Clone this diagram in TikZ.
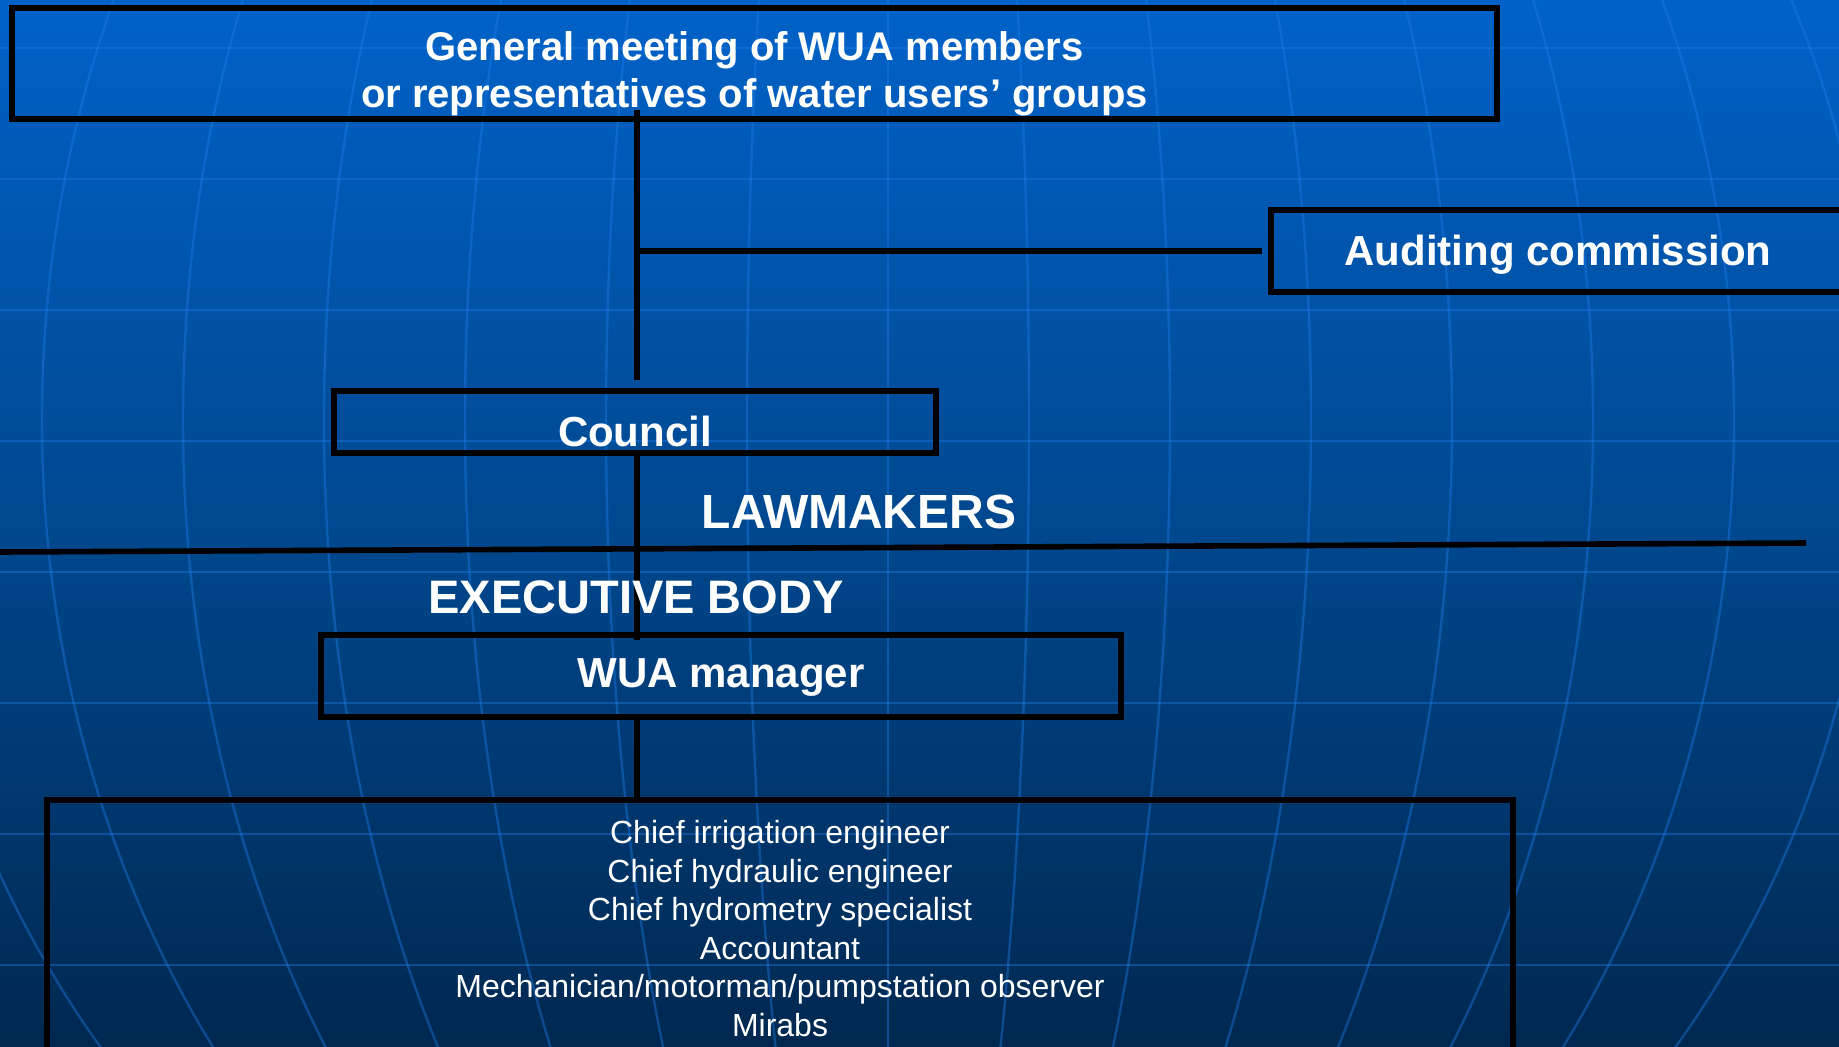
\documentclass[tikz,border=0pt]{standalone}
\usepackage{fontspec}
\setmainfont{Liberation Sans}
\definecolor{bgtop}{HTML}{0062C8}
\definecolor{bgmid}{HTML}{00488F}
\definecolor{bgbot}{HTML}{002850}
\definecolor{gridblue}{HTML}{1E7DEB}
\begin{document}
\begin{tikzpicture}[x=0.5pt,y=-0.5pt,
    orgbox/.style={draw=black,line width=2.8pt,inner sep=0pt,text=white},
    link/.style={draw=black,line width=2.8pt},
    gridline/.style={draw=gridblue,draw opacity=.4,line width=1.2pt},
    headtext/.style={text=white,font=\fontsize{21pt}{25pt}\selectfont\bfseries}]
    \useasboundingbox (0,0) rectangle (1839,1047);

    \shade [top color=bgtop,bottom color=bgbot,middle color=bgmid] (0,0) rectangle (1839,1047);

    \begin{scope}
      \clip (0,0) rectangle (1839,1047);
      \foreach \k in {0,...,7}
        \draw [gridline] (0,48+131*\k) -- (1839,48+131*\k);
      \draw [gridline] (888,0) -- (888,1047);
      \foreach \i in {1,...,7}
        \draw [gridline] (888,420) ellipse [x radius=141*\i, y radius=1040];
    \end{scope}

    \node [orgbox,minimum width=742.5pt,minimum height=55.5pt,align=center,
      font=\fontsize{20pt}{23.5pt}\selectfont\bfseries] (meeting) at (754.5,63.5)
      {\rule{0pt}{25pt}General meeting of WUA members\\or representatives of water users’ groups};

    \node [orgbox,headtext,minimum width=287pt,minimum height=41pt,
      text height=15pt,text depth=0pt] (audit) at (1558,251) {Auditing commission};

    \node [orgbox,headtext,minimum width=301pt,minimum height=31pt,
      text height=24pt,text depth=0pt] (council) at (635,422) {Council};

    \node [orgbox,headtext,minimum width=400pt,minimum height=41pt,
      text height=15pt,text depth=3.5pt] (manager) at (721,676) {WUA manager};

    \node [orgbox,minimum width=733pt,minimum height=128.8pt,align=center,
      font=\fontsize{16pt}{19.25pt}\selectfont] (staff) at (780,928.8)
      {Chief irrigation engineer\\Chief hydraulic engineer\\Chief hydrometry specialist\\
       Accountant\\Mechanician/motorman/pumpstation observer\\Mirabs};

    \coordinate (spine) at ([xshift=1pt]council.north);
    \draw [link] ([yshift=6pt]meeting.south -| spine) -- ([yshift=4pt]council.north -| spine);
    \draw [link] (audit.west -| spine) -- ([xshift=-3pt]audit.west);
    \draw [link] (council.south -| spine) -- ([yshift=-4pt]manager.north -| spine);
    \draw [link] (manager.south -| spine) -- (staff.north -| spine);

    \coordinate (splitwest) at (0,552);
    \coordinate (spliteast) at (1806,543);
    \draw [link] (splitwest) -- (spliteast);

    \node [headtext,font=\fontsize{24pt}{28pt}\selectfont\bfseries] (lawmakers) at (859,512) {LAWMAKERS};
    \node [headtext,font=\fontsize{23.5pt}{28pt}\selectfont\bfseries] (executive) at (636,597) {EXECUTIVE BODY};
  \end{tikzpicture}
\end{document}
